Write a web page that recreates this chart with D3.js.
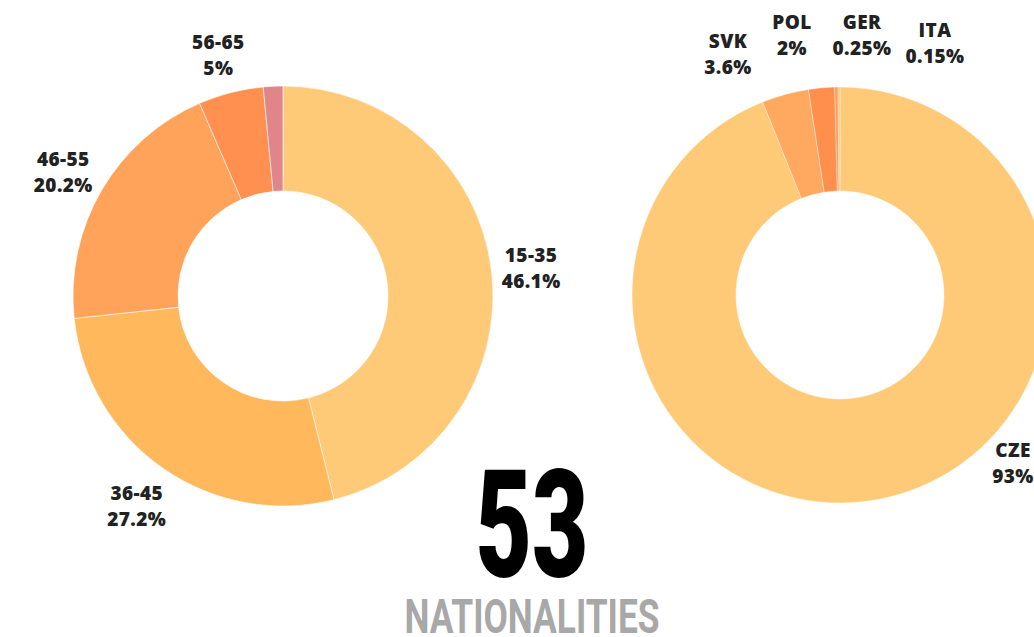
<!DOCTYPE html>
<html>
<head>
<meta charset="utf-8">
<script src="https://cdn.jsdelivr.net/npm/d3@7"></script>
<style>
  body { margin: 0; background: #fff; }
  svg { display: block; }
  .lbl { font-family: "Open Sans", sans-serif; font-weight: 800; font-size: 19px; letter-spacing: 0.4px; fill: #222; }
</style>
</head>
<body>
<svg width="1034" height="637"></svg>
<script>
// age groups
var ageNames = ["15-35", "36-45", "46-55", "56-65", "66+"];
var ageValues = [46.1, 27.2, 20.2, 5, 1.5];
var ageShown = [true, true, true, true, false];
var ageColors = ["#FFCA78", "#FFB85B", "#FFA35A", "#FF904F", "#E0858A"];

// nationalities
var natNames = ["CZE", "SVK", "POL", "GER", "ITA"];
var natValues = [93, 3.6, 2, 0.25, 0.15];
var natColors = ["#FFCA78", "#FFA860", "#FF8F4D", "#FF9A55", "#FFBE6E"];
// label anchors for right donut (manual, like the original)
var natLabelPos = [[1013, 457], [728, 48], [792, 29], [862, 29], [935, 37]];

var bigNumber = "53";
var bigCaption = "NATIONALITIES";

var svg = d3.select("svg");
var pie = d3.pie().sort(null).value(function(d){ return d; });

function fmt(v){ return v + "%"; }

// left donut
var r1 = 210;
var g1 = svg.append("g").attr("transform", "translate(283,296)");
var arc1 = d3.arc().innerRadius(r1 * 0.5).outerRadius(r1);
var labelArc1 = d3.arc().innerRadius(r1 * 1.2).outerRadius(r1 * 1.2);
var arcs1 = pie(ageValues);

g1.selectAll("path").data(arcs1).enter().append("path")
  .attr("d", arc1)
  .attr("fill", function(d, i){ return ageColors[i]; })
  .attr("stroke", "#fff").attr("stroke-width", 0.6);

var lab1 = g1.selectAll("text.lbl").data(arcs1.filter(function(d, i){ return ageShown[i]; }))
  .enter().append("text").attr("class", "lbl")
  .attr("text-anchor", "middle")
  .attr("transform", function(d){
    var c = labelArc1.centroid(d);
    return "translate(" + (c[0] - 2) + "," + (c[1] - 3) + ")";
  });
lab1.append("tspan").attr("x", 0).attr("dy", 0).text(function(d){ return ageNames[d.index]; });
lab1.append("tspan").attr("x", 0).attr("dy", 26).text(function(d){ return fmt(ageValues[d.index]); });

// right donut
var r2 = 208;
var g2 = svg.append("g").attr("transform", "translate(840,295)");
var arc2 = d3.arc().innerRadius(r2 * 0.5).outerRadius(r2);
var arcs2 = pie(natValues);

g2.selectAll("path").data(arcs2).enter().append("path")
  .attr("d", arc2)
  .attr("fill", function(d, i){ return natColors[i]; })
  .attr("stroke", "#fff").attr("stroke-width", 0.4);

var lab2 = svg.selectAll("text.nat").data(natNames).enter().append("text")
  .attr("class", "lbl nat")
  .attr("text-anchor", "middle")
  .attr("transform", function(d, i){ return "translate(" + natLabelPos[i][0] + "," + natLabelPos[i][1] + ")"; });
lab2.append("tspan").attr("x", 0).attr("dy", 0).text(function(d){ return d; });
lab2.append("tspan").attr("x", 0).attr("dy", 26).text(function(d, i){ return fmt(natValues[i]); });

// big number
svg.append("text")
  .attr("x", 532).attr("y", 577)
  .attr("text-anchor", "middle")
  .attr("font-family", "Roboto, sans-serif")
  .attr("font-weight", 900)
  .attr("font-size", 150)
  .attr("textLength", 113)
  .attr("lengthAdjust", "spacingAndGlyphs")
  .attr("fill", "#000")
  .text(bigNumber);

svg.append("text")
  .attr("x", 532).attr("y", 633)
  .attr("text-anchor", "middle")
  .attr("font-family", "Roboto, sans-serif")
  .attr("font-weight", 700)
  .attr("font-size", 49)
  .attr("textLength", 255)
  .attr("lengthAdjust", "spacingAndGlyphs")
  .attr("fill", "#A8A8A8")
  .text(bigCaption);
</script>
</body>
</html>
